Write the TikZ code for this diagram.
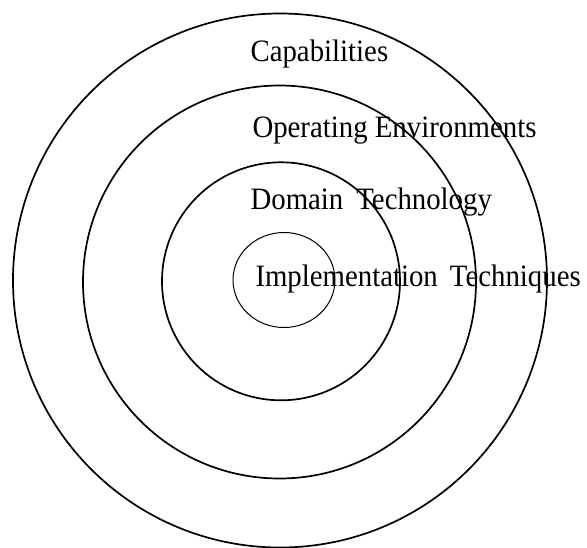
\documentclass[tikz,border=0pt]{standalone}
\usepackage{fontspec}
\setmainfont{Liberation Serif}
\newcommand{\tallt}[1]{\scalebox{1}[1.08]{#1}}
\begin{document}
\begin{tikzpicture}[x=1pt,y=-1pt,
  ring/.style={draw=black,line width=1.7pt},
  innerring/.style={draw=black,line width=1.0pt},
  lbl/.style={anchor=base west,inner sep=0pt,font=\fontsize{28.8}{32}\selectfont}]
\useasboundingbox (0,0) rectangle (587,547);
\draw[ring] (280,280.5) circle[radius=267];
\draw[ring] (279.5,282) circle[radius=196.5];
\draw[ring] (281,281.3) circle[radius=119];
\draw[innerring] (284,280) ellipse[x radius=51,y radius=47.5];
\node[lbl] (cap) at (250.4,61.2) {\tallt{Capabilities}};
\node[lbl] (ope) at (252.3,137.1) {\tallt{Operating Environments}};
\node[lbl] (dom) at (250.4,209.9) {\tallt{Domain\hspace{0.45em}Technology}};
\node[lbl] (imp) at (255.3,286.1) {\tallt{Implementation\hspace{0.42em}Techniques}};
\end{tikzpicture}
\end{document}
